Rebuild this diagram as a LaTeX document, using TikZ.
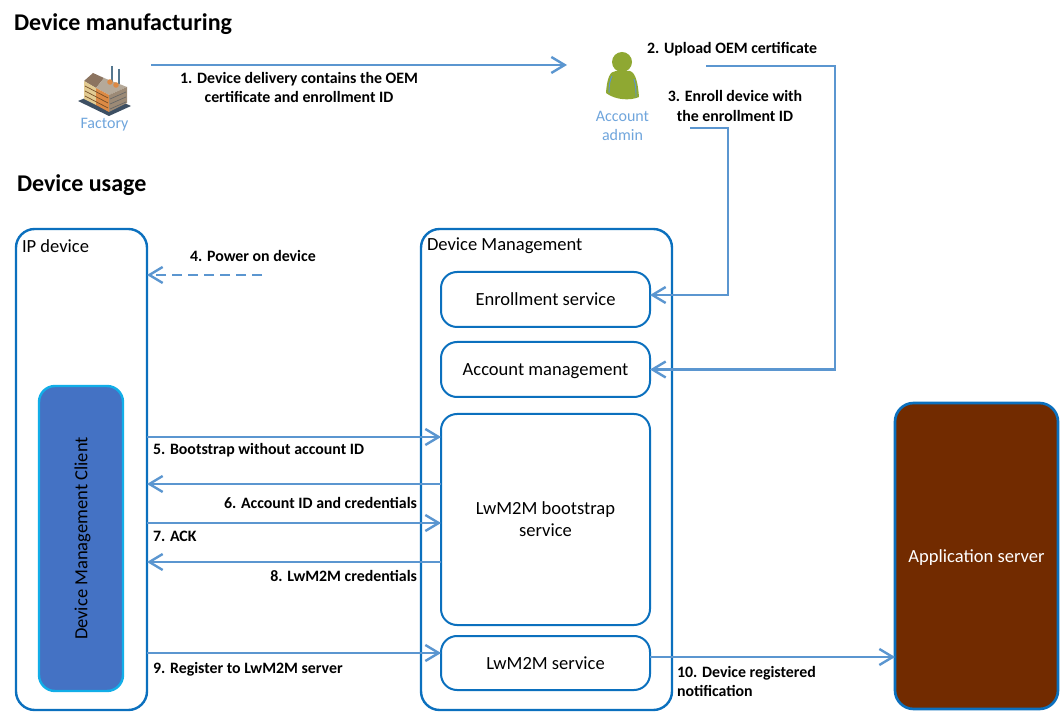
\documentclass[tikz,border=0pt]{standalone}
\usepackage{fontspec}
\setmainfont{Carlito}
\usetikzlibrary{arrows.meta,positioning}
\definecolor{ink}{HTML}{000000}
\definecolor{edge}{HTML}{0B70BE}
\definecolor{wire}{HTML}{5B96D0}
\definecolor{faint}{HTML}{6FA5DC}
\definecolor{client}{HTML}{4472C4}
\definecolor{clientedge}{HTML}{12AEE8}
\definecolor{appfill}{HTML}{722B00}
\definecolor{leaf}{HTML}{8FA832}
\definecolor{slab}{HTML}{3D4F63}
\definecolor{roofa}{HTML}{8C7460}
\definecolor{roofb}{HTML}{B5A999}
\definecolor{walla}{HTML}{E2CB92}
\definecolor{wallb}{HTML}{DC8A45}
\definecolor{wallc}{HTML}{9C8A76}
\definecolor{stack}{HTML}{55778F}
\tikzset{
  every node/.style={inner sep=0pt, outer sep=0pt, text=ink},
  box/.style={draw=edge, fill=white, line width=1.8pt, rounded corners=12pt, align=center, font=\fontsize{13.9}{16.5}\selectfont},
  frame/.style={box, minimum width=98.25pt, minimum height=360.75pt, rounded corners=14pt},
  service/.style={box, line width=1.5pt, minimum width=156.75pt, minimum height=41.25pt},
  heading/.style={anchor=west, font=\fontsize{18}{21}\bfseries\selectfont},
  steplabel/.style={font=\fontsize{11.9}{14.6}\bfseries\selectfont},
  caption/.style={font=\fontsize{12}{14.5}\selectfont, text=faint, align=center},
  boxname/.style={anchor=west, font=\fontsize{13.9}{16.5}\selectfont},
  flow/.style={-{Straight Barb[length=10pt, width=12pt, line width=1.8pt]}, draw=wire, line width=2.2pt},
}
\begin{document}
\begin{tikzpicture}[x=0.75pt, y=-0.75pt]
\useasboundingbox (0,0) rectangle (1060,712);
\node[heading] (tmanu) at (14,24.5) {Device manufacturing};
\node[heading] (tusage) at (17,185) {Device usage};
% factory icon
\fill[slab] (78,101) -- (109,116) -- (131,106) -- (100,92) -- cycle;
\fill[roofa] (84,81) -- (93,73) -- (104,78) -- (96,88) -- cycle;
\fill[roofb] (96,88) -- (104,78) -- (127,87) -- (109,95) -- cycle;
\fill[walla] (84,81) -- (96,88) -- (96,105) -- (84,99) -- cycle;
\fill[wallb] (96,88) -- (109,95) -- (109,112) -- (96,105) -- cycle;
\fill[wallc] (109,95) -- (127,87) -- (127,103) -- (109,112) -- cycle;
\foreach \rowy in {0,5,10} {
  \draw[brown!60!black, line width=0.5pt] (85,{86+\rowy}) -- (108,{98+\rowy});
  \draw[black!60, line width=0.5pt] (110,{99+\rowy}) -- (126,{92+\rowy});
}
\draw[stack, line width=2.2pt] (112,66) -- (112,82);
\draw[stack, line width=2.2pt] (119,69) -- (119,84);
\fill[wallb] (110,82) circle (2.8);
\fill[wallb] (116,85) circle (2.8);
\node[caption] (factory) at (104.5,125) {Factory};
% admin icon
\fill[leaf] (622,62) circle (10);
\fill[leaf] (606,93) .. controls (607,78) and (610,71) .. (616,71) -- (630,71) .. controls (636,73) and (638,84) .. (639,97) .. controls (630,101) and (615,100) .. (606,93) -- cycle;
\draw[wire, line width=0.7pt] (609,93) .. controls (609,85) and (610,80) .. (612,76);
\draw[wire, line width=0.7pt] (634,79) .. controls (636,85) and (636,92) .. (636,97);
\node[caption] (admin) at (622.5,126) {Account\\admin};
\coordinate (dock) at (567,65);
\coordinate (start) at (151,65);
\coordinate (upload) at (706,66);
\coordinate (enroll) at (690,128);
\coordinate (power) at (262,275);
% boxes
\node[frame] (ipdevice) at (81.5,469.5) {};
\node[frame, minimum width=188.25pt] (devmgmt) at (546.5,469.5) {};
\node[boxname] (tip) at (22,246) {IP device};
\node[boxname] (tdm) at (427,246) {Device Management};
\node[service] (enrollment) at (545.5,299.5) {Enrollment service};
\node[service, text depth=0pt, below=11.25pt of enrollment] (account) {Account management};
\node[service, minimum height=158.25pt, below=12.75pt of account] (bootstrap) {LwM2M bootstrap\\service};
\node[service, minimum height=40.5pt, below=8.25pt of bootstrap] (lwm2m) {LwM2M service};
\node[box, draw=clientedge, fill=client, minimum width=63pt, minimum height=228.75pt] (dmclient) at (81,538.5) {};
\node[rotate=90, text depth=0pt, font=\fontsize{13.9}{16.5}\selectfont] (tclient) at (81,538.5) {Device Management Client};
\node[box, fill=appfill, text depth=0pt, line width=2pt, minimum width=122.25pt, minimum height=229.5pt, rounded corners=14pt] (appserver) at (976.5,556) {\textcolor{white}{Application server}};
% connectors
\draw[flow] (start) -- (dock);
\draw[flow] (upload) -| (835,369.5) -- (account.east);
\draw[flow] (enroll) -| (728,295) -- (enrollment.east |- 728,295);
\draw[flow, dash pattern=on 7.5pt off 4.5pt] (power) -- (ipdevice.east |- power);
\draw[flow] (ipdevice.east |- 0,437) -- (bootstrap.west |- 0,437);
\draw[flow] (bootstrap.west |- 0,484) -- (ipdevice.east |- 0,484);
\draw[flow] (ipdevice.east |- 0,523) -- (bootstrap.west |- 0,523);
\draw[flow] (bootstrap.west |- 0,562) -- (ipdevice.east |- 0,562);
\draw[flow] (ipdevice.east |- 0,653) -- (lwm2m.west |- 0,653);
\draw[flow] (lwm2m.east |- 0,657) -- (appserver.west |- 0,657);
% step labels
\node[steplabel, align=center] (s1) at (299,87.5) {1. Device delivery contains the OEM\\certificate and enrollment ID};
\node[steplabel, anchor=west] (s2) at (647,49.5) {2. Upload OEM certificate};
\node[steplabel, align=center] (s3) at (735,106) {3. Enroll device with\\the enrollment ID};
\node[steplabel, anchor=west] (s4) at (190,256) {4. Power on device};
\node[steplabel, anchor=west] (s5) at (153,450.5) {5. Bootstrap without account ID};
\node[steplabel, anchor=east] (s6) at (417,503) {6. Account ID and credentials};
\node[steplabel, anchor=west] (s7) at (153,536) {7. ACK};
\node[steplabel, anchor=east] (s8) at (417,576) {8. LwM2M credentials};
\node[steplabel, anchor=west] (s9) at (153,669) {9. Register to LwM2M server};
\node[steplabel, anchor=west, align=left] (s10) at (677,681.5) {10. Device registered\\notification};
\end{tikzpicture}
\end{document}
